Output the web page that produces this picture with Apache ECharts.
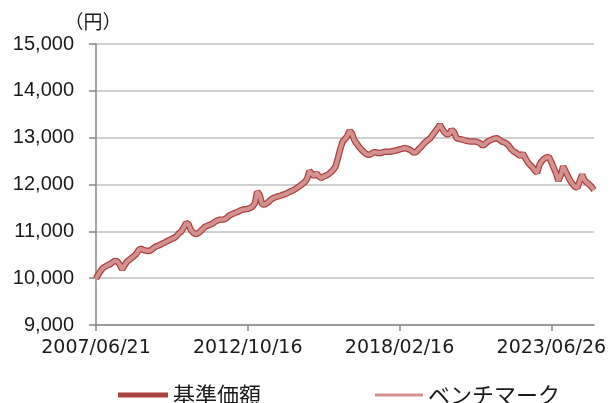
<!DOCTYPE html>
<html>
<head>
<meta charset="utf-8">
<script src="https://cdn.jsdelivr.net/npm/echarts@6/dist/echarts.min.js"></script>
<style>
  html, body { margin: 0; padding: 0; background: #fff; }
  #chart { width: 611px; height: 403px; }
</style>
</head>
<body>
<div id="chart"></div>
<script>
// monthly points, 2007/06 .. 2024/12
var startYear = 2007, startMonth = 6;
var tickLabels = ['2007/06/21', '2012/10/16', '2018/02/16', '2023/06/26'];
var tickStep = 64;
var yTicks = [9000, 15000, 1000];

var navValues = [
    9990, 10080, 10160, 10220, 10250, 10280, 10300, 10340, 10370, 10360,
    10290, 10190, 10270, 10350, 10390, 10430, 10470, 10520, 10600, 10630,
    10600, 10590, 10580, 10590, 10630, 10670, 10690, 10710, 10740, 10760,
    10790, 10815, 10840, 10860, 10900, 10960, 11000, 11080, 11180, 11150,
    11030, 10970, 10940, 10960, 11000, 11050, 11100, 11120, 11140, 11160,
    11200, 11230, 11245, 11250, 11255, 11280, 11330, 11360, 11380, 11400,
    11420, 11450, 11465, 11470, 11480, 11500, 11525, 11600, 11850, 11780,
    11580, 11570, 11600, 11640, 11690, 11715, 11735, 11750, 11765, 11785,
    11800, 11825, 11850, 11875, 11900, 11935, 11970, 12010, 12050, 12120,
    12290, 12230, 12180, 12240, 12170, 12140, 12170, 12190, 12220, 12260,
    12310, 12380, 12560, 12760, 12920, 12970, 13040, 13150, 13080, 12940,
    12870, 12800, 12740, 12690, 12650, 12630, 12650, 12690, 12690, 12670,
    12670, 12690, 12700, 12700, 12700, 12710, 12720, 12730, 12750, 12760,
    12780, 12770, 12750, 12720, 12680, 12690, 12750, 12800, 12860, 12910,
    12950, 12990, 13060, 13130, 13200, 13270, 13190, 13110, 13070, 13080,
    13170, 13120, 12990, 12975, 12965, 12950, 12935, 12925, 12920, 12920,
    12920, 12900, 12880, 12830, 12860, 12910, 12940, 12960, 12980, 12990,
    12960, 12920, 12900, 12880, 12830, 12760, 12710, 12680, 12640, 12610,
    12660, 12570, 12480, 12420, 12370, 12300, 12250, 12420, 12500, 12550,
    12580, 12590, 12480, 12360, 12240, 12080, 12200, 12390, 12280, 12180,
    12080, 12010, 11950, 11930, 12080, 12210, 12090, 12040, 12000, 11950,
    11880
];
// benchmark runs on top of the fund line, indistinguishable at this scale
var benchValues = navValues.slice();

var months = [];
for (var i = 0; i < navValues.length; i++) {
    var m = startMonth - 1 + i;
    var y = startYear + Math.floor(m / 12);
    var mm = (m % 12) + 1;
    months.push(y + '/' + (mm < 10 ? '0' + mm : mm));
}

var chart = echarts.init(document.getElementById('chart'));

var legendText = {
    fontFamily: 'Noto Sans CJK JP',
    fontSize: 22,
    color: '#1a1a1a'
};

var option = {
    animation: false,
    backgroundColor: '#fff',
    grid: {
        left: 96,
        right: 17,
        top: 44,
        bottom: 78
    },
    legend: [{
        data: ['基準価額'],
        left: 113,
        top: 379,
        icon: 'rect',
        itemWidth: 50,
        itemHeight: 5,
        textStyle: legendText
    }, {
        data: ['ベンチマーク'],
        left: 370,
        top: 379,
        icon: 'rect',
        itemWidth: 48,
        itemHeight: 3,
        textStyle: legendText
    }],
    xAxis: {
        type: 'category',
        boundaryGap: false,
        data: months,
        axisLine: { lineStyle: { color: '#888', width: 1.5 } },
        axisTick: {
            show: true,
            interval: tickStep - 1,
            length: 6,
            lineStyle: { color: '#888', width: 1.5 }
        },
        axisLabel: {
            interval: tickStep - 1,
            margin: 14,
            fontFamily: 'DejaVu Sans',
            fontSize: 19,
            color: '#1a1a1a',
            formatter: function (v, idx) {
                return tickLabels[Math.round(idx / tickStep)] || '';
            }
        },
        splitLine: { show: false }
    },
    yAxis: {
        type: 'value',
        min: yTicks[0],
        max: yTicks[1],
        interval: yTicks[2],
        name: '（円）',
        nameLocation: 'end',
        nameGap: 13,
        nameTextStyle: {
            fontFamily: 'Noto Sans CJK JP',
            fontSize: 19,
            color: '#1a1a1a',
            align: 'center',
            padding: [0, 6, 0, 0]
        },
        axisLine: { show: true, lineStyle: { color: '#888', width: 1.5 } },
        axisTick: { show: true, length: 7, lineStyle: { color: '#888', width: 1.5 } },
        axisLabel: {
            margin: 22,
            fontFamily: 'Liberation Sans',
            fontSize: 20,
            color: '#1a1a1a',
            formatter: function (v) {
                return v.toLocaleString('en-US');
            }
        },
        splitLine: { lineStyle: { color: '#c0c0c0', width: 1.5 } }
    },
    series: [
        {
            name: '基準価額',
            type: 'line',
            data: navValues,
            symbol: 'none',
            color: '#A9433F',
            lineStyle: { width: 6.5, color: '#A9433F' }
        },
        {
            name: 'ベンチマーク',
            type: 'line',
            data: benchValues,
            symbol: 'none',
            color: '#D59190',
            lineStyle: { width: 4, color: '#D59190' }
        }
    ]
};

chart.setOption(option);
</script>
</body>
</html>
